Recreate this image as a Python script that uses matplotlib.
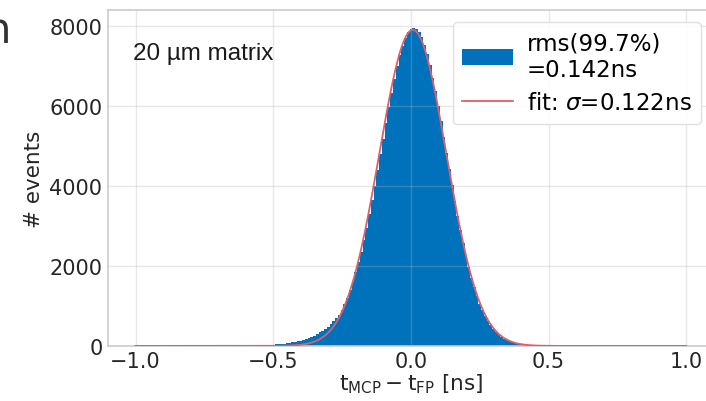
import numpy as np
import matplotlib
matplotlib.use("Agg")
import matplotlib.pyplot as plt

# ---- data ----
bin_width = 0.01
bin_start = -0.695  # first bin edge
counts = [
    2, 2, 3, 3, 4, 4, 5, 6, 7, 8,
    9, 10, 12, 14, 16, 18, 21, 24, 28, 32,
    37, 43, 50, 58, 66, 76, 87, 100, 115, 132,
    152, 175, 200, 228, 260, 296, 336, 380, 428, 482,
    545, 612, 690, 785, 900, 1040, 1205, 1395, 1610, 1840,
    2090, 2360, 2650, 2960, 3290, 3640, 4000, 4390, 4785, 5180,
    5575, 5960, 6330, 6675, 6990, 7270, 7505, 7695, 7835, 7920,
    7955, 7930, 7845, 7710, 7520, 7285, 7010, 6700, 6360, 5995,
    5610, 5215, 4815, 4410, 4015, 3630, 3255, 2900, 2565, 2255,
    1965, 1700, 1462, 1248, 1058, 892, 746, 622, 515, 424,
    347, 283, 229, 185, 150, 121, 98, 80, 65, 53,
    44, 37, 31, 26, 22, 19, 16, 14, 12, 10,
    9, 8, 7, 6, 5, 4, 4, 3, 3, 2,
]
fit_amplitude = 7900
fit_mean = 0.007
fit_sigma = 0.122
fit_range = (-1.0, 1.0)

hist_label = "rms(99.7%)\n=0.142ns"
fit_label = r"fit: $\sigma$=0.122ns"
annotation = "20 µm matrix"
xlabel = r"$\mathregular{t_{MCP} - t_{FP}}$ [ns]"
ylabel = "# events"

# ---- plot ----
plt.rcParams['font.family'] = ['DejaVu Sans']
fig = plt.figure(figsize=(7.06, 4.02), dpi=100)
ax = fig.add_axes([0.153, 0.137, 0.858, 0.836])

edges = bin_start + bin_width * np.arange(len(counts) + 1)
centers = 0.5 * (edges[:-1] + edges[1:])
ax.hist(centers, bins=edges, weights=counts, color='#0072bb',
        label=hist_label, zorder=2)

xf = np.linspace(fit_range[0], fit_range[1], 2000)
yf = fit_amplitude * np.exp(-0.5 * ((xf - fit_mean) / fit_sigma) ** 2)
ax.plot(xf, yf, color='#dc5f6c', lw=1.3, label=fit_label, zorder=3)

ax.set_xlim(-1.1, 1.1)
ax.set_ylim(0, 8400)
ax.set_xticks([-1.0, -0.5, 0.0, 0.5, 1.0])
ax.set_yticks([0, 2000, 4000, 6000, 8000])
ax.grid(True, color='#b4b4b4', lw=1.0, alpha=0.3, zorder=4)
ax.set_axisbelow(False)
for s in ax.spines.values():
    s.set_color('#cccccc')
    s.set_linewidth(1.2)
ax.spines['right'].set_visible(False)
ax.tick_params(axis='both', length=0, labelsize=15, colors='#262626', pad=4)

ax.set_xlabel(xlabel, fontsize=15.5, color='#262626', labelpad=0)
ax.set_ylabel(ylabel, fontsize=15.5, color='#262626', labelpad=4)

ax.text(0.042, 0.905, annotation, transform=ax.transAxes, fontsize=17.5,
        family='Liberation Sans', color='#1a1a1a', va='top', ha='left')

leg = ax.legend(loc='upper right', fontsize=16.5, frameon=True, framealpha=0.9,
                edgecolor='#dddddd', handlelength=2.2, borderpad=0.42,
                labelspacing=0.45, handletextpad=0.6, borderaxespad=0,
                bbox_to_anchor=(0.979, 0.964))

fig.text(11 / 706, 1 - 43 / 402, "n", fontsize=30, color='#333333',
         ha='right', va='baseline')

fig.savefig("out.png", dpi=100)
